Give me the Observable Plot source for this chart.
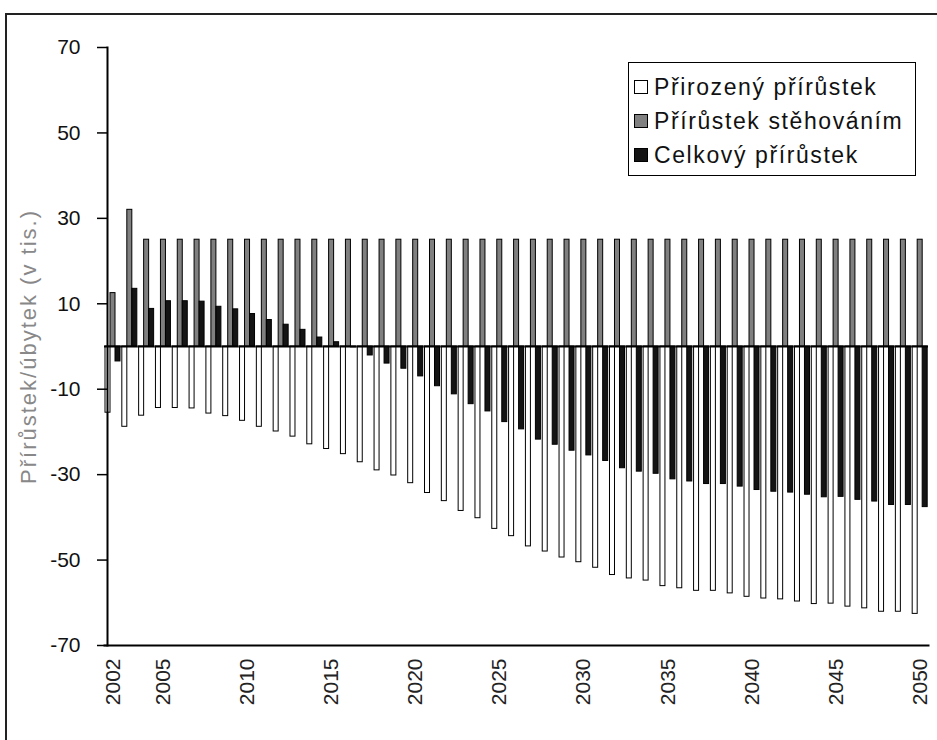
<!DOCTYPE html>
<html>
<head>
<meta charset="utf-8">
<script src="https://cdn.jsdelivr.net/npm/d3@7"></script>
<script src="https://cdn.jsdelivr.net/npm/@observablehq/plot@0.6"></script>
<style>
  body { margin: 0; background: #fff; }
  #wrap { position: relative; width: 937px; height: 740px; overflow: hidden; font-family: "Liberation Sans", Arial, sans-serif; }
  #border { position: absolute; left: 5px; top: 13px; width: 1000px; height: 1000px; border-top: 2px solid #222; border-left: 2px solid #222; }
  #chart { position: absolute; left: 0; top: 0; }
  #chart g.ytitle text { letter-spacing: 2px; }
  #legend { position: absolute; left: 628px; top: 62px; width: 288px; height: 114px; border: 1.5px solid #000; box-sizing: border-box; background: #fff; padding-top: 7px; }
  .row { display: flex; align-items: center; height: 34px; padding-left: 5px; font-size: 23px; letter-spacing: 1.6px; color: #111; }
  .sw { width: 12px; height: 12px; border: 1.5px solid #000; margin-right: 6px; flex: none; }
</style>
</head>
<body>
<div id="wrap">
  <div id="border"></div>
  <div id="chart"></div>
  <div id="legend"></div>
</div>
<script>
const years = [2002,2003,2004,2005,2006,2007,2008,2009,2010,2011,2012,2013,2014,2015,2016,2017,2018,2019,2020,2021,2022,2023,2024,2025,2026,2027,2028,2029,2030,2031,2032,2033,2034,2035,2036,2037,2038,2039,2040,2041,2042,2043,2044,2045,2046,2047,2048,2049,2050];
const labelYears = [2002,2005,2010,2015,2020,2025,2030,2035,2040,2045,2050];

// Přirozený přírůstek (natural increase), thousands
const natural = [-15.5,-18.8,-16.2,-14.4,-14.4,-14.5,-15.7,-16.3,-17.4,-18.8,-19.9,-21.1,-22.9,-24.0,-25.2,-27.1,-29.0,-30.2,-32.0,-34.3,-36.2,-38.5,-40.2,-42.7,-44.4,-46.8,-48.0,-49.4,-50.5,-51.8,-53.5,-54.3,-54.8,-56.1,-56.6,-57.2,-57.2,-57.8,-58.6,-59.0,-59.2,-59.7,-60.3,-60.2,-60.9,-61.3,-62.1,-62.1,-62.6];
// Přírůstek stěhováním (migration increase)
const migration = [12.5,32.0,25,25,25,25,25,25,25,25,25,25,25,25,25,25,25,25,25,25,25,25,25,25,25,25,25,25,25,25,25,25,25,25,25,25,25,25,25,25,25,25,25,25,25,25,25,25,25];
// Celkový přírůstek (total increase)
const total = [-3.5,13.5,8.8,10.6,10.6,10.5,9.3,8.7,7.6,6.2,5.1,3.9,2.1,1.0,-0.2,-2.1,-4.0,-5.2,-7.0,-9.3,-11.2,-13.5,-15.2,-17.7,-19.4,-21.8,-23.0,-24.4,-25.5,-26.8,-28.5,-29.3,-29.8,-31.1,-31.6,-32.2,-32.2,-32.8,-33.6,-34.0,-34.2,-34.7,-35.3,-35.2,-35.9,-36.3,-37.1,-37.1,-37.6];

const seriesNames = ["Přirozený přírůstek", "Přírůstek stěhováním", "Celkový přírůstek"];
const seriesColors = ["#ffffff", "#808080", "#141414"];
const yTicks = [-70, -50, -30, -10, 10, 30, 50, 70];
const yTitle = "Přírůstek/úbytek (v tis.)";

const rows = [];
years.forEach((yr, i) => {
  rows.push({year: yr, series: seriesNames[0], value: natural[i]});
  rows.push({year: yr, series: seriesNames[1], value: migration[i]});
  rows.push({year: yr, series: seriesNames[2], value: total[i]});
});

const chart = Plot.plot({
  width: 937,
  height: 740,
  marginLeft: 104,
  marginRight: 9,
  marginTop: 47,
  marginBottom: 95,
  style: {fontFamily: "'Liberation Sans', Arial, sans-serif", fontSize: "21px", background: "transparent", color: "#111"},
  fx: {domain: years, padding: 0, label: null},
  x: {domain: seriesNames, paddingInner: 0, paddingOuter: 0.15, axis: null},
  y: {domain: [-70, 70], label: null},
  color: {domain: seriesNames, range: seriesColors},
  marks: [
    Plot.barY(rows, {fx: "year", x: "series", y: "value", fill: "series", stroke: "#000", strokeWidth: 1}),
    Plot.ruleY([0], {stroke: "#000", strokeWidth: 2}),
    Plot.frame({anchor: "left", facet: "super", stroke: "#000", strokeWidth: 2, dx: 3}),
    Plot.frame({anchor: "bottom", facet: "super", stroke: "#000", strokeWidth: 2}),
    Plot.axisY(yTicks, {anchor: "left", tickSize: 10, tickPadding: 17, tickFormat: d => String(d), dx: 3, label: null, fontSize: 21, stroke: "#000", strokeWidth: 1.5}),
    Plot.axisFx({anchor: "bottom", tickSize: 0, tickRotate: -90, tickPadding: 13, label: null, tickFormat: d => labelYears.includes(d) ? String(d) : "", fontSize: 21, fill: "#222"}),
    Plot.text([yTitle], {frameAnchor: "left", textAnchor: "middle", rotate: -90, dx: -76, facet: "super", fill: "#888", fontSize: 22, className: "ytitle"})
  ]
});
document.getElementById("chart").appendChild(chart);

const legend = document.getElementById("legend");
seriesNames.forEach((name, i) => {
  const row = document.createElement("div");
  row.className = "row";
  const sw = document.createElement("span");
  sw.className = "sw";
  sw.style.background = seriesColors[i];
  const label = document.createElement("span");
  label.textContent = name;
  row.appendChild(sw);
  row.appendChild(label);
  legend.appendChild(row);
});
</script>
</body>
</html>
